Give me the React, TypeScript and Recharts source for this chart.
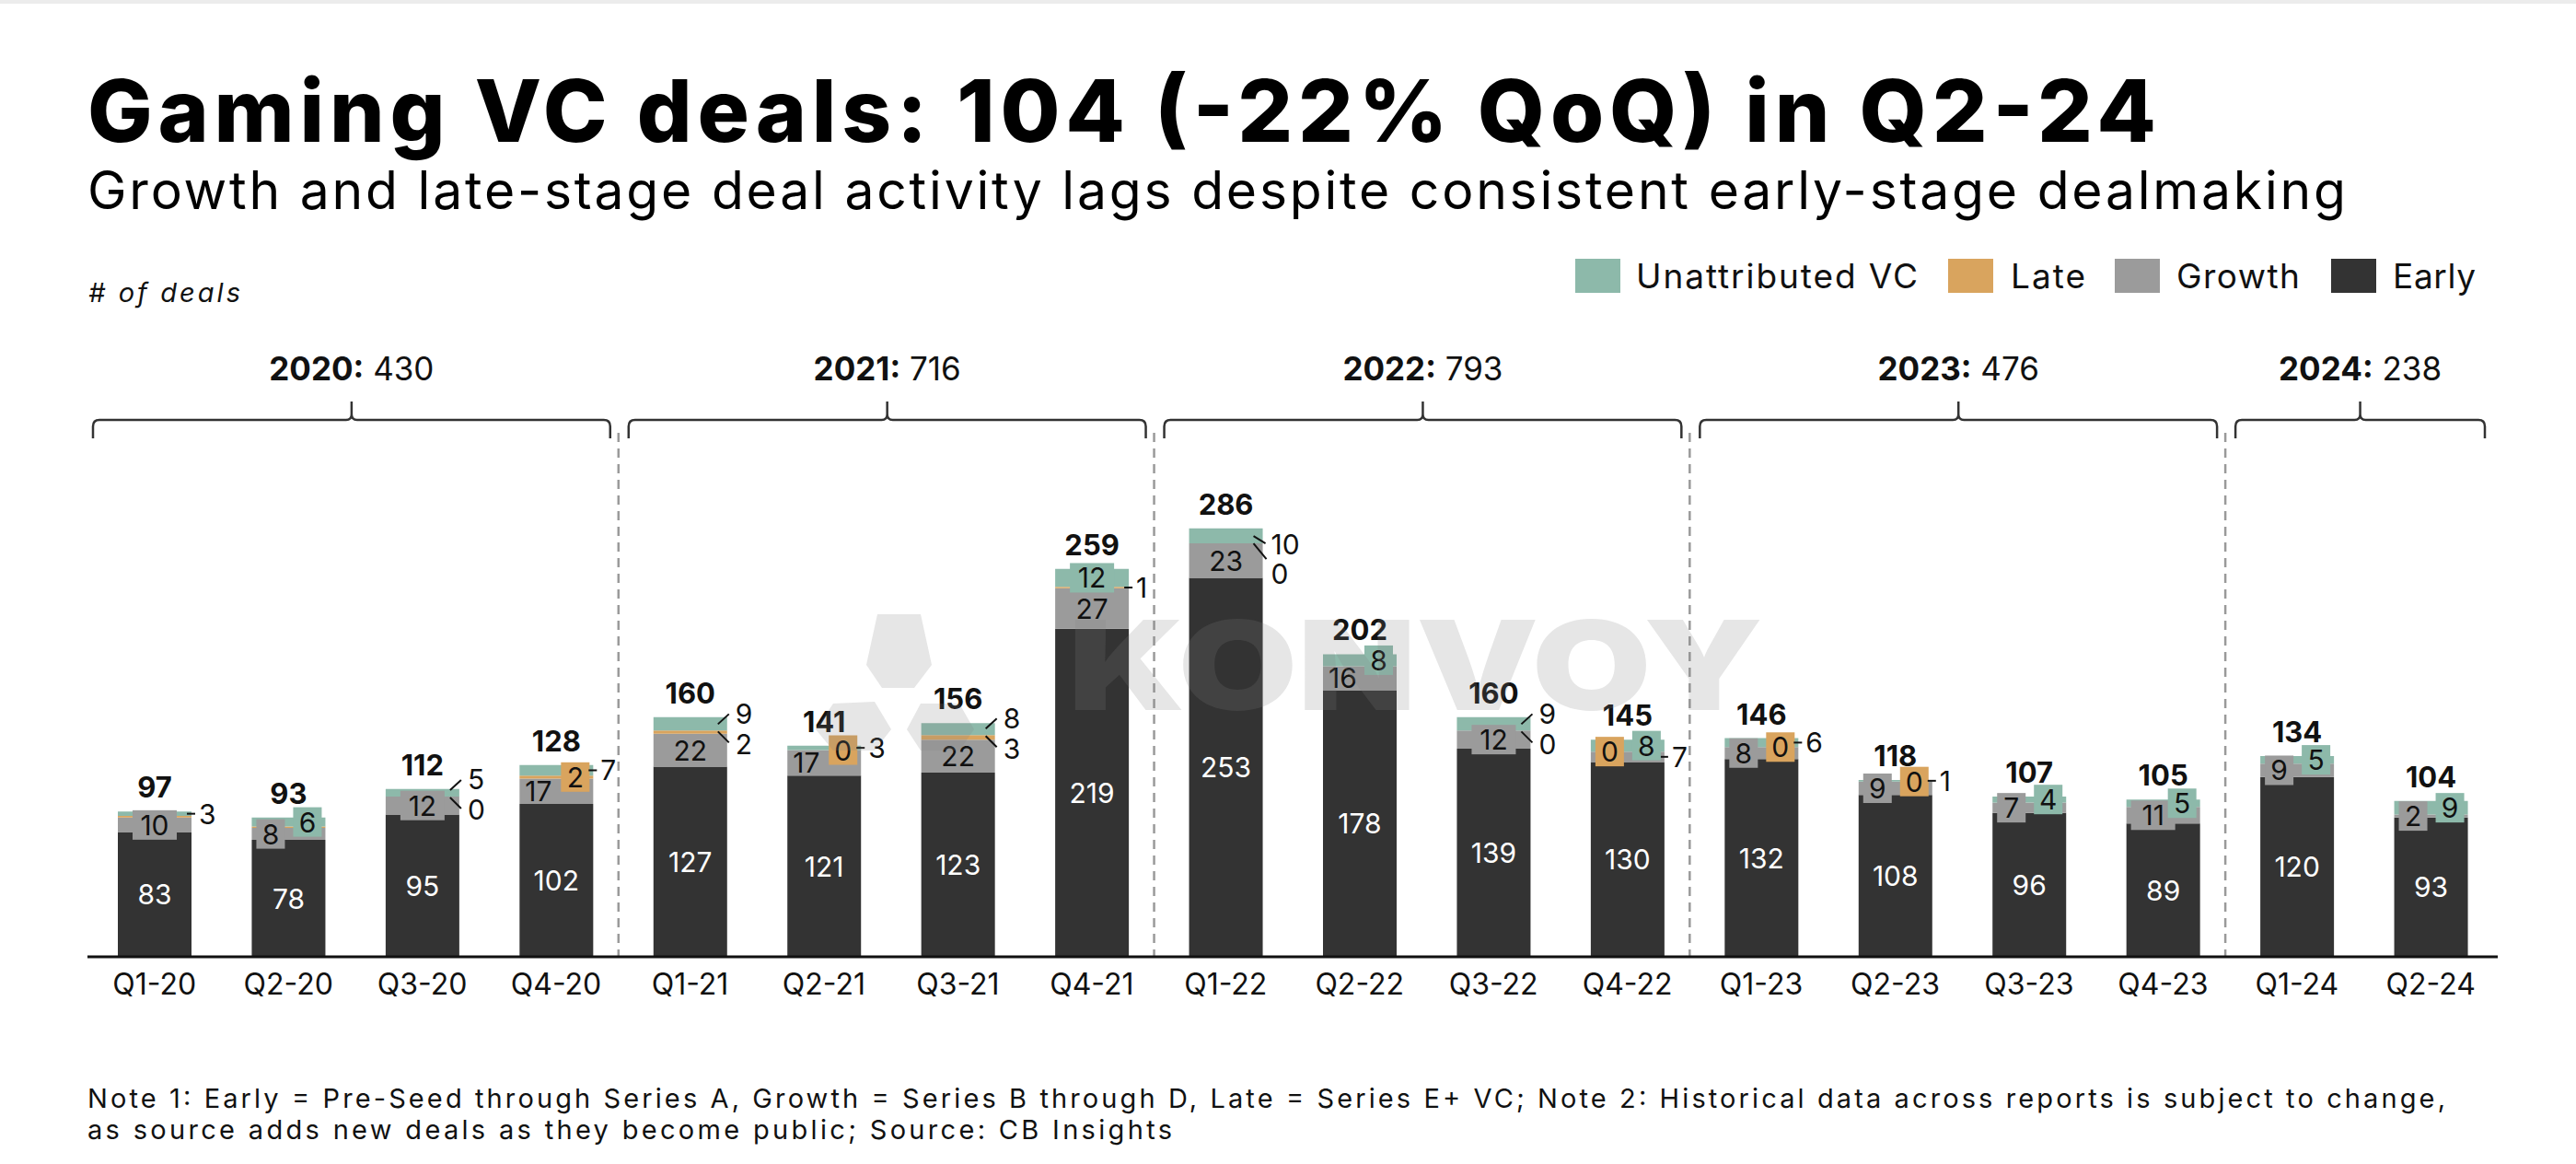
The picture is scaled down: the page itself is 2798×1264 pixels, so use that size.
import React from 'react';
import { BarChart, Bar, XAxis, YAxis, LabelList, ReferenceArea } from 'recharts';

// ---------- DATA ----------
const quarters = ['Q1-20', 'Q2-20', 'Q3-20', 'Q4-20', 'Q1-21', 'Q2-21', 'Q3-21', 'Q4-21', 'Q1-22', 'Q2-22', 'Q3-22', 'Q4-22', 'Q1-23', 'Q2-23', 'Q3-23', 'Q4-23', 'Q1-24', 'Q2-24'];
const early = [83, 78, 95, 102, 127, 121, 123, 219, 253, 178, 139, 130, 132, 108, 96, 89, 120, 93];
const growth = [10, 8, 12, 17, 22, 17, 22, 27, 23, 16, 12, 7, 8, 9, 7, 11, 9, 2];
const late = [1, 1, 0, 2, 2, 0, 3, 1, 0, 0, 0, 0, 0, 0, 0, 0, 0, 0];
const unattributed = [3, 6, 5, 7, 9, 3, 8, 12, 10, 8, 9, 8, 6, 1, 4, 5, 5, 9];
const totals = [97, 93, 112, 128, 160, 141, 156, 259, 286, 202, 160, 145, 146, 118, 107, 105, 134, 104];

const years = ['2020', '2021', '2022', '2023', '2024'];
const yearTotals = [430, 716, 793, 476, 238];
const yearFirstQuarter = ['Q1-20', 'Q1-21', 'Q1-22', 'Q1-23', 'Q1-24'];
const yearLastQuarter = ['Q4-20', 'Q4-21', 'Q4-22', 'Q4-23', 'Q2-24'];

// label placement (layout only)
const growthModes = ['boxC', 'boxL', 'boxC', 'textL', 'textC', 'textL', 'textC', 'textC', 'textC', 'textL', 'boxC', 'lead', 'boxL', 'boxL', 'boxL', 'boxL', 'boxL', 'boxL'];
const lateModes = ['none', 'none', 'pairLow', 'boxR', 'pairLow', 'boxR', 'pairLow', 'lead', 'pairLowDown', 'none', 'pairLow', 'boxL', 'boxR', 'boxR', 'none', 'none', 'none', 'none'];
const unattrModes = ['lead', 'boxR', 'pairHigh', 'lead', 'pairHigh', 'lead', 'pairHigh', 'boxC', 'pairHighDown', 'boxR', 'pairHigh', 'boxR', 'lead', 'lead', 'boxR', 'boxR', 'boxR', 'boxR'];

const data = quarters.map((q, i) => ({
  q,
  early: early[i],
  growth: growth[i],
  late: late[i],
  unattributed: unattributed[i],
}));

// ---------- STYLE ----------
const FONT = "Inter, 'Noto Sans', 'Liberation Sans', sans-serif";
const C = {
  early: '#333333',
  growth: '#9b9b9b',
  late: '#d9a45e',
  unattr: '#8db9aa',
  text: '#111111',
};
const W = 2798;
const H = 1264;
const MARGIN = { top: 551, right: 85, bottom: 165, left: 95 };
const XAXIS_H = 60;
const LABEL_FS = 30;

const boxWidth = (s: string) => s.length * 17 + 14;

function BoxLabel({ cx, cy, text, fill }: any) {
  const w = boxWidth(text);
  return (
    <g>
      <rect x={cx - w / 2} y={cy - 16} width={w} height={32} fill={fill} />
      <text x={cx} y={cy} textAnchor="middle" dominantBaseline="central" fontSize={LABEL_FS} fill={C.text} fontFamily={FONT}>
        {text}
      </text>
    </g>
  );
}

function SideText({ x, y, text }: any) {
  return (
    <text x={x} y={y} textAnchor="start" dominantBaseline="central" fontSize={LABEL_FS} fill={C.text} fontFamily={FONT}>
      {text}
    </text>
  );
}

function renderSegment(mode: string, text: string, fill: string, x: number, y: number, w: number, h: number) {
  const cy = y + h / 2;
  const R = x + w;
  const bw = boxWidth(text);
  const ln = { stroke: C.text, strokeWidth: 2 };
  switch (mode) {
    case 'boxL':
      return <BoxLabel cx={x + 5 + bw / 2} cy={cy} text={text} fill={fill} />;
    case 'boxR':
      return <BoxLabel cx={R - 4 - bw / 2} cy={cy} text={text} fill={fill} />;
    case 'boxC':
      return <BoxLabel cx={x + w / 2} cy={cy} text={text} fill={fill} />;
    case 'textL':
      return (
        <text x={x + 6} y={cy} textAnchor="start" dominantBaseline="central" fontSize={LABEL_FS} fill={C.text} fontFamily={FONT}>
          {text}
        </text>
      );
    case 'textC':
      return (
        <text x={x + w / 2} y={cy} textAnchor="middle" dominantBaseline="central" fontSize={LABEL_FS} fill={C.text} fontFamily={FONT}>
          {text}
        </text>
      );
    case 'lead':
      return (
        <g>
          <line x1={R - 5} y1={cy} x2={R + 4} y2={cy} {...ln} />
          <SideText x={R + 8} y={cy} text={text} />
        </g>
      );
    case 'pairHigh': {
      const m = y + h - 2;
      return (
        <g>
          <line x1={R - 10} y1={m - 5} x2={R + 2} y2={m - 16} {...ln} />
          <SideText x={R + 9} y={m - 16.5} text={text} />
        </g>
      );
    }
    case 'pairLow': {
      const m = y - 2;
      return (
        <g>
          <line x1={R - 10} y1={m + 3} x2={R + 2} y2={m + 15} {...ln} />
          <SideText x={R + 9} y={m + 16.5} text={text} />
        </g>
      );
    }
    case 'pairHighDown': {
      const j = y + h;
      return (
        <g>
          <line x1={R - 10} y1={j - 8} x2={R + 3} y2={j} {...ln} />
          <SideText x={R + 9} y={j + 1} text={text} />
        </g>
      );
    }
    case 'pairLowDown': {
      const j = y;
      return (
        <g>
          <line x1={R - 10} y1={j} x2={R + 4} y2={j + 17} {...ln} />
          <SideText x={R + 9} y={j + 33} text={text} />
        </g>
      );
    }
    default:
      return null;
  }
}

function geom(props: any) {
  const vb = props.viewBox ?? props;
  let x = Number(vb.x);
  let y = Number(vb.y);
  let w = Number(vb.width);
  let h = Number(vb.height);
  if (h < 0) {
    y = y + h;
    h = -h;
  }
  if (w < 0) {
    x = x + w;
    w = -w;
  }
  return { x, y, w, h, i: Number(props.index) };
}

const earlyLabel = (props: any) => {
  const { x, y, w, h, i } = geom(props);
  return (
    <text x={x + w / 2} y={y + h / 2} textAnchor="middle" dominantBaseline="central" fontSize={LABEL_FS} fill="#ffffff" fontFamily={FONT}>
      {String(early[i])}
    </text>
  );
};
const growthLabel = (props: any) => {
  const { x, y, w, h, i } = geom(props);
  return renderSegment(growthModes[i], String(growth[i]), C.growth, x, y, w, h);
};
// the top segment (never zero) also carries the late-stage label, which sits directly beneath it
const topLabel = (props: any) => {
  const { x, y, w, h, i } = geom(props);
  const perUnit = h / unattributed[i];
  const lateH = late[i] * perUnit;
  return (
    <g>
      {renderSegment(lateModes[i], String(late[i]), C.late, x, y + h, w, lateH)}
      {renderSegment(unattrModes[i], String(unattributed[i]), C.unattr, x, y, w, h)}
      <text x={x + w / 2} y={y - 15} textAnchor="middle" fontSize={31} fontWeight={700} fill={C.text} fontFamily={FONT}>
        {String(totals[i])}
      </text>
    </g>
  );
};

const QuarterTick = (props: any) => {
  const { x, y, payload } = props;
  return (
    <text x={x} y={y + 41} textAnchor="middle" fontSize={32} fill={C.text} fontFamily={FONT}>
      {payload.value}
    </text>
  );
};

const makeYearShape = (gi: number) => (props: any) => {
  const gx = Number(props.x);
  const gy = Number(props.y);
  const gw = Number(props.width);
  const gh = Number(props.height);
  const x1 = gx + 6;
  const x2 = gx + gw - 14;
  const cx = (x1 + x2) / 2;
  const yb = gy - 95;
  const yEnd = yb + 20;
  const yN = yb - 20;
  const d = `M ${x1} ${yEnd} L ${x1} ${yb + 7} Q ${x1} ${yb} ${x1 + 7} ${yb} L ${cx - 6} ${yb} Q ${cx} ${yb} ${cx} ${yb - 6} L ${cx} ${yN} M ${cx} ${yb - 6} Q ${cx} ${yb} ${cx + 6} ${yb} L ${x2 - 7} ${yb} Q ${x2} ${yb} ${x2} ${yb + 7} L ${x2} ${yEnd}`;
  return (
    <g>
      <path d={d} fill="none" stroke="#333" strokeWidth={2.5} />
      <text x={cx} y={yb - 43} textAnchor="middle" fontSize={35} fill={C.text} fontFamily={FONT}>
        <tspan fontWeight={700}>{years[gi]}:</tspan>
        <tspan> {yearTotals[gi]}</tspan>
      </text>
      {gi < years.length - 1 && (
        <line x1={gx + gw - 5} y1={yb + 14} x2={gx + gw - 5} y2={gy + gh} stroke="#9a9a9a" strokeWidth={2.5} strokeDasharray="10 7" />
      )}
    </g>
  );
};

const legendItems = [
  { name: 'Unattributed VC', color: C.unattr, rx: 1711, tx: 1777, tl: 306 },
  { name: 'Late', color: C.late, rx: 2116, tx: 2184, tl: 81 },
  { name: 'Growth', color: C.growth, rx: 2297, tx: 2364, tl: 134 },
  { name: 'Early', color: C.early, rx: 2532, tx: 2599, tl: 90 },
];

export default function App() {
  return (
    <div style={{ position: 'absolute', left: 0, top: 0, width: W, height: H, background: '#ffffff', overflow: 'hidden' }}>
      {/* bars */}
      <div style={{ position: 'absolute', left: 0, top: 0 }}>
        <BarChart width={W} height={H} data={data} margin={MARGIN} barSize={80}>
          <XAxis
            dataKey="q"
            height={XAXIS_H}
            tickLine={false}
            tickSize={0}
            tickMargin={0}
            interval={0}
            axisLine={{ stroke: '#111', strokeWidth: 3 }}
            tick={<QuarterTick />}
          />
          <YAxis hide domain={[0, 300]} />
          {years.map((y, gi) => (
            <ReferenceArea
              key={y}
              x1={yearFirstQuarter[gi]}
              x2={yearLastQuarter[gi]}
              ifOverflow="visible"
              fill="none"
              shape={makeYearShape(gi)}
            />
          ))}
          <Bar dataKey="early" stackId="a" fill={C.early} isAnimationActive={false} />
          <Bar dataKey="growth" stackId="a" fill={C.growth} isAnimationActive={false} />
          <Bar dataKey="late" stackId="a" fill={C.late} isAnimationActive={false} />
          <Bar dataKey="unattributed" stackId="a" fill={C.unattr} isAnimationActive={false} />
        </BarChart>
      </div>
      {/* labels on top of all bars */}
      <div style={{ position: 'absolute', left: 0, top: 0 }}>
        <BarChart width={W} height={H} data={data} margin={MARGIN} barSize={80}>
          <XAxis dataKey="q" height={XAXIS_H} tick={false} tickLine={false} axisLine={false} interval={0} />
          <YAxis hide domain={[0, 300]} />
          <Bar dataKey="early" stackId="a" fill="transparent" isAnimationActive={false}>
            <LabelList dataKey="early" content={earlyLabel} />
          </Bar>
          <Bar dataKey="growth" stackId="a" fill="transparent" isAnimationActive={false}>
            <LabelList dataKey="growth" content={growthLabel} />
          </Bar>
          <Bar dataKey="late" stackId="a" fill="transparent" isAnimationActive={false} />
          <Bar dataKey="unattributed" stackId="a" fill="transparent" isAnimationActive={false}>
            <LabelList dataKey="unattributed" content={topLabel} />
          </Bar>
        </BarChart>
      </div>
      {/* text, legend, watermark */}
      <svg width={W} height={H} style={{ position: 'absolute', left: 0, top: 0, pointerEvents: 'none' }} fontFamily={FONT}>
        <rect x={0} y={0} width={W} height={4} fill="#ececec" />
        <text x={95} y={154} fontSize={94} fontWeight={800} fill="#000" textLength={2247} lengthAdjust="spacing">
          Gaming VC deals: 104 (-22% QoQ) in Q2-24
        </text>
        <text x={95} y={227} fontSize={57} fill="#000" textLength={2453} lengthAdjust="spacing">
          Growth and late-stage deal activity lags despite consistent early-stage dealmaking
        </text>
        <text x={96} y={328} fontSize={29} fontStyle="italic" fill="#111" textLength={165} lengthAdjust="spacing">
          # of deals
        </text>
        {legendItems.map((it) => (
          <g key={it.name}>
            <rect x={it.rx} y={281} width={49} height={37} fill={it.color} />
            <text x={it.tx} y={313} fontSize={37} fill="#111" textLength={it.tl} lengthAdjust="spacing">
              {it.name}
            </text>
          </g>
        ))}
        <text x={95} y={1203} fontSize={29} fill="#111" textLength={2561} lengthAdjust="spacing">
          Note 1: Early = Pre-Seed through Series A, Growth = Series B through D, Late = Series E+ VC; Note 2: Historical data across reports is subject to change,
        </text>
        <text x={95} y={1237} fontSize={29} fill="#111" textLength={1178} lengthAdjust="spacing">
          as source adds new deals as they become public; Source: CB Insights
        </text>
        {/* watermark */}
        <g fill="#808080" opacity={0.2}>
          <polygon points="953,667 1000,667 1012,722 993,747 958,747 941,722" />
          <polygon points="905,764 950,762 968,792 950,815 905,815 886,792" />
          <polygon points="1000,764 1042,764 1058,792 1042,815 1000,815 985,792" />
          <text transform="translate(1160,771) scale(1.25,1)" x={0} y={0} fontSize={134} fontWeight={900}>
            KONVOY
          </text>
        </g>
      </svg>
    </div>
  );
}
